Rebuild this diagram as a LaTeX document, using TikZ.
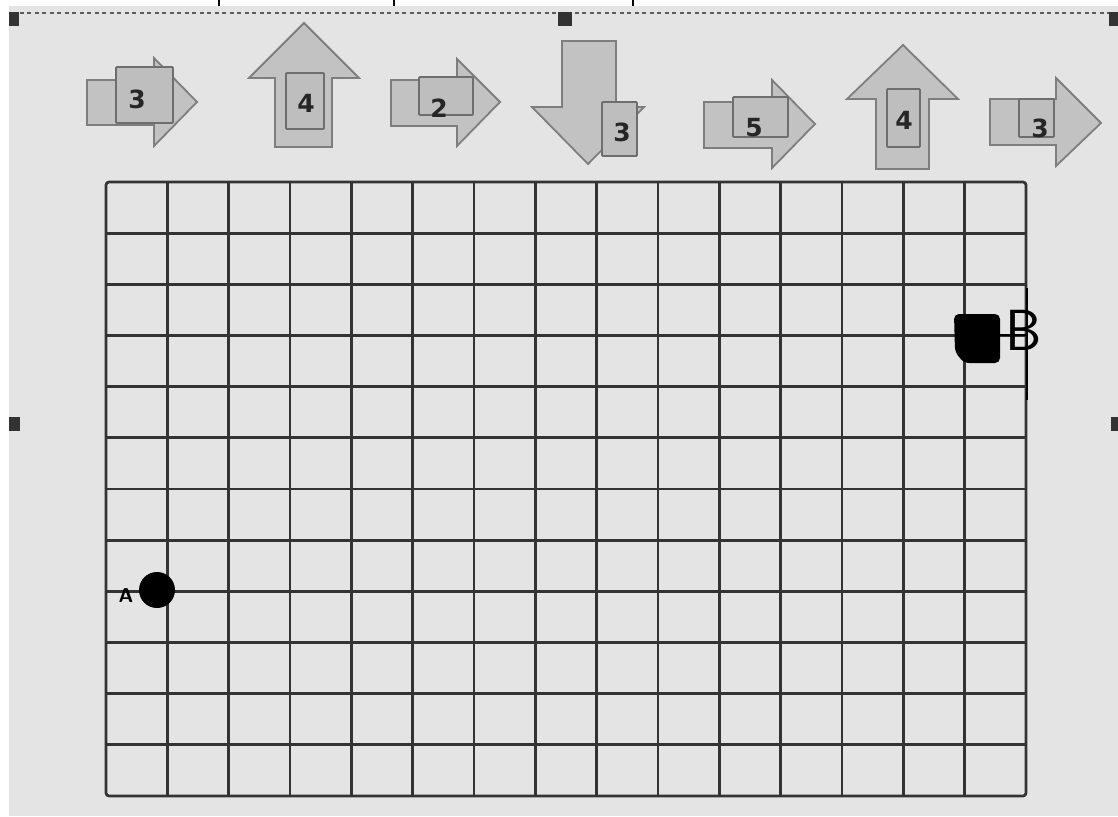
\documentclass[tikz,border=0pt]{standalone}
\usepackage{fontspec}
\newfontfamily\dv{DejaVu Sans}
\definecolor{bg}{HTML}{E4E4E4}
\definecolor{arrfill}{HTML}{C2C2C2}
\definecolor{arrline}{HTML}{7E7E7E}
\definecolor{boxfill}{HTML}{BEBEBE}
\definecolor{boxline}{HTML}{6E6E6E}
\definecolor{gridc}{HTML}{333333}
\definecolor{handlec}{HTML}{333333}
\tikzset{
  arr/.style={fill=arrfill, draw=arrline, line width=1.8pt, line join=miter},
  ibox/.style={fill=boxfill, draw=boxline, line width=1.8pt, rounded corners=1pt},
  num/.style={font=\dv\bfseries\fontsize{25}{25}\selectfont, text=black!85, inner sep=0pt},
  gridline/.style={draw=gridc, line width=2.7pt},
  handle/.style={fill=handlec},
}
\begin{document}
\begin{tikzpicture}[x=1pt,y=-1pt]
\useasboundingbox (0,0) rectangle (1118,816);
\fill[white] (0,0) rectangle (1118,816);
\fill[bg] (9,6) rectangle (1118,816);
% top ticks
\foreach \tx in {219,394,633} \draw[black, line width=1.6pt] (\tx,0) -- (\tx,6);
% dotted selection line
\draw[handlec!80, line width=1.6pt, dash pattern=on 4pt off 3.5pt] (12,13) -- (1112,13);
% handles
\fill[handle] (9,12) rectangle (19,26);
\fill[handle] (558,12) rectangle (572,26);
\fill[handle] (1109,12) rectangle (1118,26);
\fill[handle] (9,417) rectangle (20,431);
\fill[handle] (1111,417) rectangle (1118,431);

% arrow 1 (right, 3)
\draw[arr] (87,80) -- (154,80) -- (154,58) -- (197,102) -- (154,146) -- (154,125) -- (87,125) -- cycle;
\draw[ibox] (116,67) rectangle (173,123);
\node[num] (n1) at (137,99) {3};
% arrow 2 (up, 4)
\draw[arr] (275,147) -- (275,78) -- (249,78) -- (304,23) -- (359,78) -- (332,78) -- (332,147) -- cycle;
\draw[ibox] (286,73) rectangle (324,129);
\node[num] (n2) at (306,103) {4};
% arrow 3 (right, 2)
\draw[arr] (391,80) -- (457,80) -- (457,59) -- (500,102) -- (457,146) -- (457,126) -- (391,126) -- cycle;
\draw[ibox] (419,77) rectangle (473,115);
\node[num] (n3) at (439,108) {2};
% arrow 4 (down, 3)
\draw[arr] (562,41) -- (616,41) -- (616,107) -- (644,107) -- (588,164) -- (532,107) -- (562,107) -- cycle;
\draw[ibox] (602,102) rectangle (637,156);
\node[num] (n4) at (622,132) {3};
% arrow 5 (right, 5)
\draw[arr] (704,102) -- (772,102) -- (772,80) -- (815,124) -- (772,168) -- (772,148) -- (704,148) -- cycle;
\draw[ibox] (733,97) rectangle (788,137);
\node[num] (n5) at (754,128) {5};
% arrow 6 (up, 4)
\draw[arr] (876,169) -- (876,99) -- (847,99) -- (903,45) -- (958,99) -- (929,99) -- (929,169) -- cycle;
\draw[ibox] (887,89) rectangle (920,147);
\node[num] (n6) at (904,120) {4};
% arrow 7 (right, 3)
\draw[arr] (990,99) -- (1056,99) -- (1056,78) -- (1101,123) -- (1056,166) -- (1056,145) -- (990,145) -- cycle;
\draw[ibox] (1019,99) rectangle (1054,137);
\node[num] (n7) at (1040,128) {3};

% grid
\foreach \i in {1,...,14} \draw[gridline] ({106+\i*61.333},182) -- ({106+\i*61.333},796);
\foreach \j in {1,...,11} \draw[gridline] (106,{182+\j*51.167}) -- (1026,{182+\j*51.167});
\draw[gridline, rounded corners=3pt] (106,182) rectangle (1026,796);

% point A
\fill[black] (157,590) circle (18);
\node[font=\sffamily\bfseries\fontsize{20}{20}\selectfont, inner sep=0pt] (A) at (126,596) {A};

% point B
\fill[black, rounded corners=5pt] (954,314) -- (1000,314) -- (1000,363) -- (964,363) -- (955,352) -- cycle;
\coordinate (bR) at (1000,335);
\coordinate (bT) at (1027,288);
\coordinate (bB) at (1027,400);
\draw[black, line width=1.4pt] (bR) -- (bR -| bT);
\draw[black, line width=1.6pt] (bT) -- (bB);
\node[font=\sffamily\fontsize{58}{58}\selectfont, inner sep=0pt] (B) at (1024,330) {B};
\end{tikzpicture}
\end{document}
